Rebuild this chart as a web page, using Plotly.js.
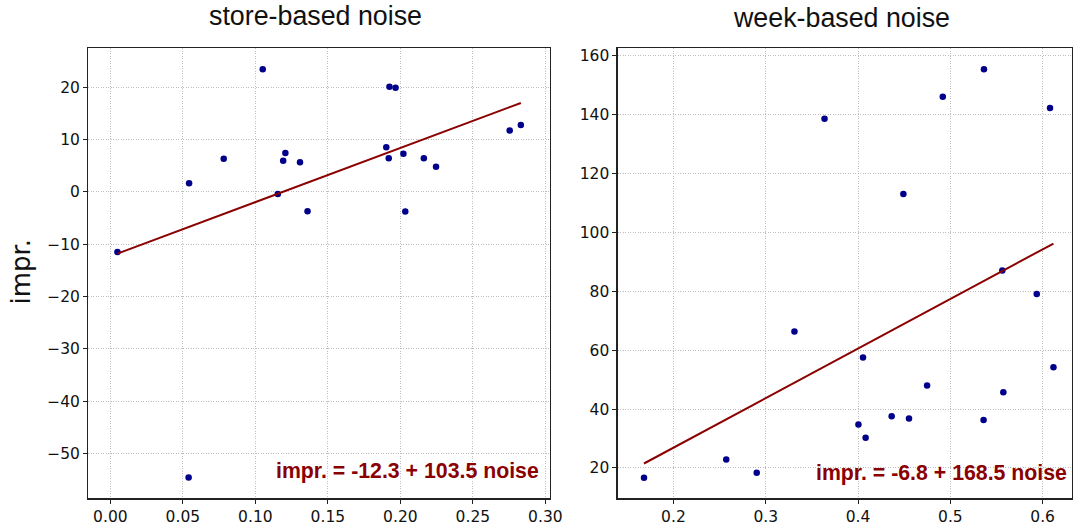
<!DOCTYPE html>
<html>
<head>
<meta charset="utf-8">
<script src="https://cdn.plot.ly/plotly-3.0.1.min.js"></script>
<style>html,body{margin:0;padding:0;background:#fff;}#chart{width:1073px;height:527px;}</style>
</head>
<body>
<div id="chart"></div>
<script>
// store-based noise panel
const storeNoise = [0.0049, 0.0543, 0.0540, 0.0782, 0.1051, 0.1155, 0.1192, 0.1207, 0.1308, 0.1360,
                    0.1903, 0.1920, 0.1925, 0.1967, 0.2021, 0.2034, 0.2162, 0.2246, 0.2754, 0.2831];
const storeImpr  = [-11.5, 1.65, -54.6, 6.36, 23.46, -0.38, 5.98, 7.44, 5.66, -3.69,
                    8.52, 6.42, 20.09, 19.9, 7.31, -3.75, 6.42, 4.83, 11.76, 12.78];
const storeFit = [-12.3, 103.5]; // intercept, slope

// week-based noise panel
const weekNoise = [0.1681, 0.2572, 0.2902, 0.3311, 0.3637, 0.4004, 0.4054, 0.4082, 0.4364, 0.4491,
                   0.4552, 0.4748, 0.4918, 0.5360, 0.5364, 0.5563, 0.5574, 0.5936, 0.6080, 0.6117];
const weekImpr  = [16.7, 22.9, 18.4, 66.4, 138.7, 34.8, 57.5, 30.3, 37.6, 113.1,
                   36.8, 48.0, 146.1, 36.3, 155.5, 87.1, 45.7, 79.1, 142.3, 54.2];
const weekFit = [-6.8, 168.5];

const titles = ["store-based noise", "week-based noise"];
const yLabel = "impr.";

function fitLine(xs, fit) {
  const lo = Math.min(...xs), hi = Math.max(...xs);
  return {x: [lo, hi], y: [fit[0] + fit[1] * lo, fit[0] + fit[1] * hi]};
}
const l1 = fitLine(storeNoise, storeFit);
const l2 = fitLine(weekNoise, weekFit);

const dotColor = '#00008B', lineColor = '#8B0000';
const traces = [
  {x: storeNoise, y: storeImpr, type: 'scatter', mode: 'markers', xaxis: 'x', yaxis: 'y',
   marker: {color: dotColor, size: 6.5}},
  {x: l1.x, y: l1.y, type: 'scatter', mode: 'lines', xaxis: 'x', yaxis: 'y',
   line: {color: lineColor, width: 2}},
  {x: weekNoise, y: weekImpr, type: 'scatter', mode: 'markers', xaxis: 'x2', yaxis: 'y2',
   marker: {color: dotColor, size: 6.5}},
  {x: l2.x, y: l2.y, type: 'scatter', mode: 'lines', xaxis: 'x2', yaxis: 'y2',
   line: {color: lineColor, width: 2}}
];

const W = 1073, H = 527;
const axBase = {
  showline: true, mirror: true, linecolor: '#222', linewidth: 1.3,
  ticks: 'outside', ticklen: 4, tickcolor: '#222', tickwidth: 1,
  tickfont: {family: 'DejaVu Sans', size: 15.5, color: '#111'},
  showgrid: true, gridcolor: '#bdbdbd', griddash: '1px,1.5px', gridwidth: 1,
  zeroline: false
};
const yDom = [1 - 498.3 / H, 1 - 48.3 / H];

function fmt(v) { return v.toFixed(1); }
const eqFont = {family: 'Liberation Sans, Arial', size: 21.3, color: lineColor, weight: 'bold'};
const titleFont = {family: 'Liberation Sans, Arial', size: 26.8, color: '#111'};

const layout = {
  width: W, height: H,
  margin: {l: 0, r: 0, t: 0, b: 0},
  paper_bgcolor: '#fff', plot_bgcolor: '#fff',
  showlegend: false,
  xaxis: Object.assign({}, axBase, {domain: [88.3 / W, 549.7 / W], range: [-0.0152, 0.303],
         dtick: 0.05, tick0: 0, tickformat: '.2f', anchor: 'y'}),
  yaxis: Object.assign({}, axBase, {domain: yDom, range: [-58.57, 27.46], dtick: 10, tick0: 0, anchor: 'x'}),
  xaxis2: Object.assign({}, axBase, {domain: [617.7 / W, 1072 / W], range: [0.1396, 0.6318],
         dtick: 0.1, tick0: 0, tickformat: '.1f', anchor: 'y2'}),
  yaxis2: Object.assign({}, axBase, {domain: yDom, range: [9.7, 162.6], dtick: 20, tick0: 0, anchor: 'x2'}),
  annotations: [
    {text: titles[0], xref: 'paper', yref: 'paper', x: 315 / W, y: 1 - 15.5 / H,
     xanchor: 'center', yanchor: 'middle', showarrow: false, font: titleFont},
    {text: titles[1], xref: 'paper', yref: 'paper', x: 841.5 / W, y: 1 - 17.5 / H,
     xanchor: 'center', yanchor: 'middle', showarrow: false, font: titleFont},
    {text: yLabel, xref: 'paper', yref: 'paper', x: 20.5 / W, y: 1 - 272 / H, textangle: -90,
     xanchor: 'center', yanchor: 'middle', showarrow: false,
     font: {family: 'DejaVu Sans', size: 26, color: '#111'}},
    {text: 'impr. = ' + fmt(storeFit[0]) + ' + ' + fmt(storeFit[1]) + ' noise',
     xref: 'paper', yref: 'paper', x: 541 / W, y: 1 - 471 / H,
     xanchor: 'right', yanchor: 'middle', showarrow: false, font: eqFont},
    {text: 'impr. = ' + fmt(weekFit[0]) + ' + ' + fmt(weekFit[1]) + ' noise',
     xref: 'paper', yref: 'paper', x: 1069 / W, y: 1 - 473 / H,
     xanchor: 'right', yanchor: 'middle', showarrow: false, font: eqFont}
  ]
};

Plotly.newPlot('chart', traces, layout, {displayModeBar: false, staticPlot: true});
</script>
</body>
</html>
